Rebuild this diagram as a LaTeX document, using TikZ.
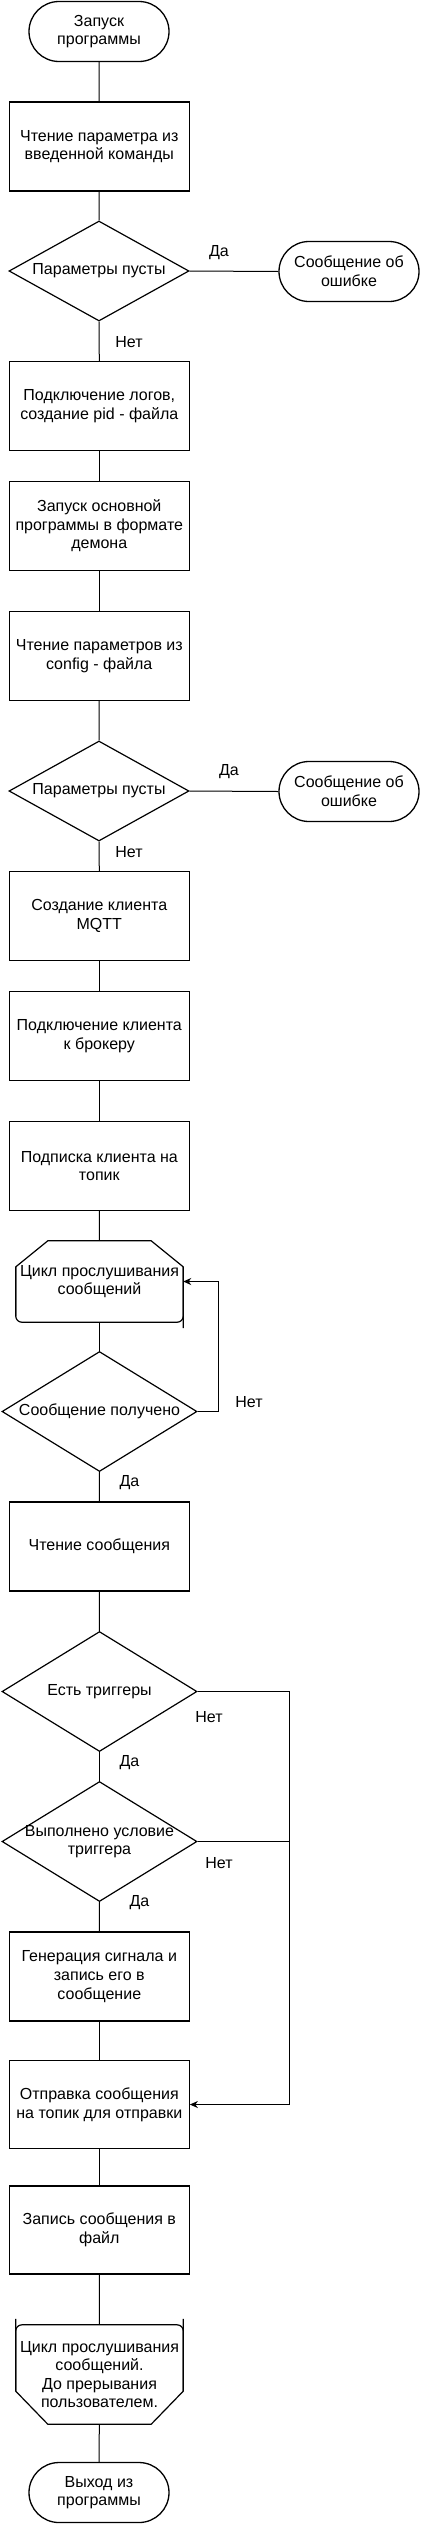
\documentclass[tikz,border=0pt]{standalone}
\usepackage{fontspec}
\setmainfont{Liberation Sans}
\usetikzlibrary{shapes.geometric,shapes.misc,arrows.meta}
\begin{document}
\begin{tikzpicture}[x=1pt,y=-1pt,
  every node/.style={font=\fontsize{16}{18.6}\selectfont, align=center, inner sep=0pt},
  proc/.style={draw, line width=1.1pt, minimum width=180pt, minimum height=89pt},
  term/.style={draw, rounded rectangle, line width=1.3pt, minimum width=140pt, minimum height=60pt},
  dec/.style={draw, diamond, line width=1.2pt},
  dsmall/.style={dec, minimum width=180pt, minimum height=100pt},
  dbig/.style={dec, minimum width=195pt, minimum height=120pt},
  loopbox/.style={minimum width=167pt},
  shapeline/.style={line width=1.2pt, line join=round},
  lbl/.style={},
  conn/.style={line width=1pt},
  arr/.style={line width=1pt, -{Stealth[length=8pt,width=7pt,inset=2.5pt]}},
]
\useasboundingbox[fill=white] (0,0) rectangle (421,2532);

% nodes
\node[term] (start) at (99,31.5) {Запуск\\программы};
\node[proc] (b1) at (99.3,146.5) {Чтение параметра из\\введенной команды};
\node[dsmall] (d1) at (99,271) {};
\node (d1t) at (d1.center) {Параметры пусты};
\node[term] (e1) at (349,271.5) {Сообщение об\\ошибке};
\node[proc] (b2) at (99.3,406) {Подключение логов,\\создание pid - файла};
\node[proc] (b3) at (99.3,526) {Запуск основной\\программы в формате\\демона};
\node[proc] (b4) at (99.3,656) {Чтение параметров из\\config - файла};
\node[dsmall] (d2) at (99,791) {};
\node (d2t) at (d2.center) {Параметры пусты};
\node[term] (e2) at (349,791.5) {Сообщение об\\ошибке};
\node[proc] (b5) at (99.3,916) {Создание клиента\\MQTT};
\node[proc] (b6) at (99.3,1036) {Подключение клиента\\к брокеру};
\node[proc] (b7) at (99.3,1166) {Подписка клиента на\\топик};
\node[loopbox, minimum height=81pt] (ls) at (99.5,1281.5) {Цикл прослушивания\\сообщений};
\node[dbig] (d3) at (99.5,1411.5) {};
\node (d3t) at (d3.center) {Сообщение получено};
\node[proc] (b8) at (99.3,1546.5) {Чтение сообщения};
\node[dbig] (d4) at (99.5,1691.5) {};
\node (d4t) at (d4.center) {Есть триггеры};
\node[dbig] (d5) at (99.5,1841.5) {};
\node (d5t) at (d5.center) {Выполнено условие\\триггера};
\node[proc] (b9) at (99.3,1976.5) {Генерация сигнала и\\запись его в\\сообщение};
\node[proc, minimum height=88pt] (b10) at (99.3,2104.5) {Отправка сообщения\\на топик для отправки};
\node[proc, minimum height=88pt] (b11) at (99.3,2230) {Запись сообщения в\\файл};
\node[loopbox, minimum height=99pt] (le) at (99.5,2374.5) {Цикл прослушивания\\сообщений.\\До прерывания\\пользователем.};
\node[term] (end) at (99,2492.5) {Выход из\\программы};

% loop limit outlines
\draw[shapeline] ([yshift=-6pt]ls.south east) -- ([yshift=-26pt]ls.north east) -- ([xshift=-32pt]ls.north east) -- ([xshift=32pt]ls.north west) -- ([yshift=-26pt]ls.north west) -- ([yshift=6pt]ls.south west);
\draw[shapeline, rounded corners=6pt] ([yshift=-26pt]ls.north east) -- (ls.south east) -- (ls.south west) -- ([yshift=-26pt]ls.north west);
\draw[shapeline] ([yshift=6pt]le.north east) -- ([yshift=33pt]le.south east) -- ([xshift=-32pt]le.south east) -- ([xshift=32pt]le.south west) -- ([yshift=33pt]le.south west) -- ([yshift=6pt]le.north west);
\draw[shapeline, rounded corners=6pt] ([yshift=33pt]le.south east) -- (le.north east) -- (le.north west) -- ([yshift=33pt]le.south west);

% connectors
\draw[conn] (start) -- (b1);
\draw[conn] (b1) -- (d1);
\draw[conn] (d1.east) -- (e1.west);
\draw[conn] (d1.south) -- (b2.north);
\draw[conn] (b2) -- (b3);
\draw[conn] (b3) -- (b4);
\draw[conn] (b4) -- (d2);
\draw[conn] (d2.east) -- (e2.west);
\draw[conn] (d2.south) -- (b5.north);
\draw[conn] (b5) -- (b6);
\draw[conn] (b6) -- (b7);
\draw[conn] (b7) -- (ls);
\draw[conn] (ls) -- (d3);
\coordinate (r3) at (218,1411.5);
\draw[arr] (d3.east) -- (r3) |- (ls.east);
\draw[conn] (d3.south) -- (b8.north);
\draw[conn] (b8) -- (d4);
\coordinate (r4) at (289,1691.5);
\draw[arr] (d4.east) -- (r4) |- (b10.east);
\draw[conn] (d4.south) -- (d5.north);
\draw[conn] (d5.east) -- (d5.east -| r4);
\draw[conn] (d5.south) -- (b9.north);
\draw[conn] (b9) -- (b10);
\draw[conn] (b10) -- (b11);
\draw[conn] (b11) -- (le);
\draw[conn] (le) -- (end);

% labels
\node[lbl] (l1) at (219,253) {Да};
\node[lbl] (l2) at (129,342) {Нет};
\node[lbl] (l3) at (229,772) {Да};
\node[lbl] (l4) at (129,852) {Нет};
\node[lbl] (l5) at (249,1402) {Нет};
\node[lbl] (l6) at (129.5,1483) {Да};
\node[lbl] (l7) at (209,1717) {Нет};
\node[lbl] (l8) at (129.5,1763) {Да};
\node[lbl] (l9) at (219,1863) {Нет};
\node[lbl] (l10) at (139.5,1903) {Да};
\end{tikzpicture}
\end{document}
